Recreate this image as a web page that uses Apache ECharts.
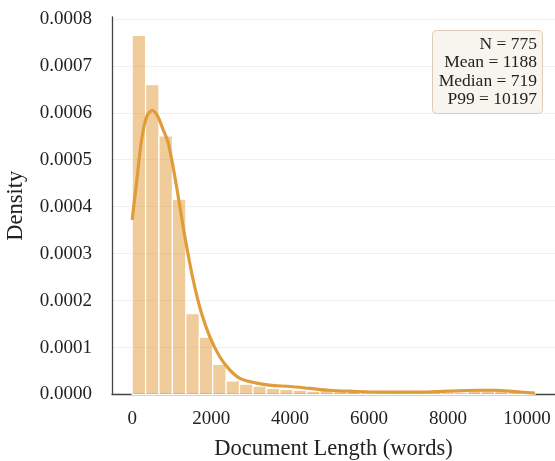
<!DOCTYPE html>
<html>
<head>
<meta charset="utf-8">
<script src="https://cdn.jsdelivr.net/npm/echarts@6/dist/echarts.min.js"></script>
<style>
  html, body { margin: 0; padding: 0; background: #fff; }
  #chart { width: 555px; height: 461px; }
</style>
</head>
<body>
<div id="chart"></div>
<script>
// Histogram range and bin count (words)
const binRangeStart = 0;
const binRangeEnd = 10197;
const binCount = 30;

// Bin densities (per word), left to right
const binDensity = [
  0.000765, 0.000660, 0.000551, 0.000416, 0.000172, 0.000122, 0.000064, 0.000029,
  0.000022, 0.000018, 0.000013, 0.000011, 0.000009, 0.000007, 0.000011, 0.000008,
  0.000008, 0.000004, 0.000004, 0.000004, 0.000004, 0.000004, 0.000004, 0.000004,
  0.000004, 0.000008, 0.000008, 0.000008, 0.000004, 0.000004
];

// Kernel density estimate: document length (words) and density
const kdeLength = [
  0, 120, 240, 370, 510, 650, 780, 914, 1124, 1333, 1543, 1753, 1962, 2214, 2465,
  2717, 3050, 3470, 4000, 4500, 5000, 5500, 6300, 7200, 8000, 8700, 9200, 9700, 10197
];
const kdeDensity = [
  0.000372, 0.000457, 0.000543, 0.000592, 0.000605, 0.000592, 0.000565, 0.000536,
  0.000443, 0.000337, 0.000245, 0.000174, 0.000124, 0.000081, 0.000053, 0.000035,
  0.000026, 0.000020, 0.000017, 0.000013, 0.000009, 0.000007, 0.000005, 0.000005,
  0.000007, 0.000009, 0.000009, 0.000006, 0.000003
];

// Summary statistics
const statN = 775;
const statMean = 1188;
const statMedian = 719;
const statP99 = 10197;

// Axis tick labels
const xTicks = [0, 2000, 4000, 6000, 8000, 10000];

const FONT = 'Liberation Serif';
const BAR_FILL = 'rgba(224,154,54,0.5)';
const LINE_COLOR = '#e09c3b';

const binWidth = (binRangeEnd - binRangeStart) / binCount;
const histData = binDensity.map((d, i) => [
  binRangeStart + i * binWidth,
  binRangeStart + (i + 1) * binWidth,
  d
]);
const kdeData = kdeLength.map((x, i) => [x, kdeDensity[i]]);

const chart = echarts.init(document.getElementById('chart'), null, { renderer: 'canvas' });

chart.setOption({
  animation: false,
  backgroundColor: '#ffffff',
  grid: {
    left: 112, right: 0, top: 17, bottom: 66.5,
    containLabel: false,
    outerBoundsMode: 'none'
  },
  xAxis: {
    type: 'value',
    min: -510,
    max: 10707,
    name: 'Document Length (words)',
    nameLocation: 'middle',
    nameGap: 43,
    nameTextStyle: { fontFamily: FONT, fontSize: 22.5, color: '#222' },
    axisLine: { show: true, onZero: false, lineStyle: { color: '#444', width: 1.3 } },
    axisTick: { show: false },
    splitLine: { show: false },
    axisLabel: {
      customValues: xTicks,
      fontFamily: FONT,
      fontSize: 19,
      color: '#222',
      margin: 15,
      formatter: v => String(v)
    }
  },
  yAxis: {
    type: 'value',
    min: 0,
    max: 0.000804,
    interval: 0.0001,
    name: 'Density',
    nameLocation: 'middle',
    nameGap: 84,
    nameTextStyle: { fontFamily: FONT, fontSize: 22.5, color: '#222' },
    axisLine: { show: true, onZero: false, lineStyle: { color: '#444', width: 1.3 } },
    axisTick: { show: false },
    splitLine: { show: true, showMaxLine: false, lineStyle: { color: '#efefef', width: 1 } },
    axisLabel: {
      showMaxLabel: false,
      fontFamily: FONT,
      fontSize: 19,
      color: '#222',
      margin: 20,
      formatter: v => v.toFixed(4)
    }
  },
  series: [
    {
      type: 'custom',
      name: 'histogram',
      data: histData,
      encode: { x: [0, 1], y: 2 },
      z: 2,
      renderItem: function (params, api) {
        const p0 = api.coord([api.value(0), api.value(2)]);
        const p1 = api.coord([api.value(1), 0]);
        return {
          type: 'rect',
          shape: { x: p0[0], y: p0[1], width: p1[0] - p0[0], height: p1[1] - p0[1] },
          style: { fill: BAR_FILL, stroke: '#ffffff', lineWidth: 1.2 }
        };
      }
    },
    {
      type: 'line',
      name: 'kde',
      data: kdeData,
      showSymbol: false,
      symbol: 'none',
      smooth: 0.35,
      z: 3,
      lineStyle: { color: LINE_COLOR, width: 3.2 }
    }
  ],
  graphic: [
    {
      type: 'rect',
      shape: { x: 432.5, y: 30.5, width: 110, height: 83, r: 4 },
      style: { fill: '#f8f4ee', stroke: '#dccdb9', lineWidth: 1 },
      z: 10
    },
    {
      type: 'text',
      x: 537,
      y: 35,
      z: 11,
      style: {
        text: 'N = ' + statN + '\nMean = ' + statMean + '\nMedian = ' + statMedian + '\nP99 = ' + statP99,
        align: 'right',
        verticalAlign: 'top',
        fontFamily: FONT,
        fontSize: 17.5,
        lineHeight: 18.5,
        fill: '#222'
      }
    }
  ]
});
</script>
</body>
</html>
